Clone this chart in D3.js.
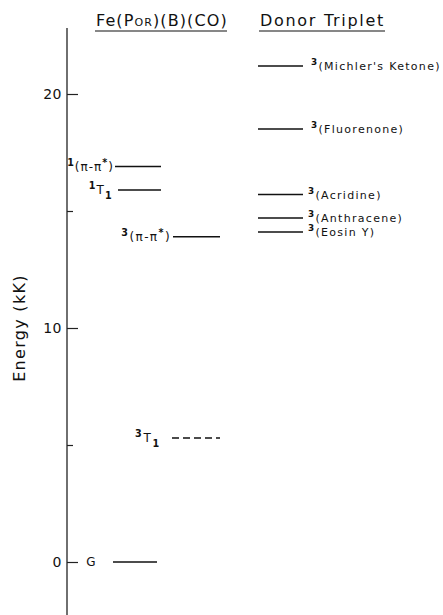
<!DOCTYPE html>
<html>
<head>
<meta charset="utf-8">
<script src="https://cdn.jsdelivr.net/npm/d3@7"></script>
<style>
  html, body { margin: 0; padding: 0; background: #fff; }
  svg { display: block; }
  text { font-family: "DejaVu Sans", sans-serif; fill: #111; }
</style>
</head>
<body>
<svg id="chart" width="443" height="615"></svg>
<script>
// ---- data ----
const leftLabels = ["^1(π-π^*)", "^1T_1", "^3(π-π^*)", "^3T_1", "G"];
const leftValues = [16.9, 15.9, 13.9, 5.3, 0];
const leftDashed = [false, false, false, true, false];

const donorLabels = ["^3(Michler's Ketone)", "^3(Fluorenone)", "^3(Acridine)", "^3(Anthracene)", "^3(Eosin Y)"];
const donorValues = [21.2, 18.5, 15.7, 14.7, 14.1];

const majorTicks = [0, 10, 20];
const minorTicks = [5, 15];
const axisTitle = "Energy (kK)";

// ---- layout (not data) ----
const leftLayout = [
  {x1: 115, x2: 161, labelEnd: 114, ls: 1.0},
  {x1: 118, x2: 161, labelEnd: 113, ls: 1.2},
  {x1: 173, x2: 220, labelEnd: 171, ls: 1.4},
  {x1: 172, x2: 220, labelEnd: 161, ls: 1.8},
  {x1: 113, x2: 157, labelEnd: 96, ls: 0.5}
];
const donorX = {x1: 258, x2: 303, label: 308};

const svg = d3.select("#chart");
const y = d3.scaleLinear().domain([0, 20]).range([562, 94]);
const axisX = 67;

// axis line
svg.append("line")
  .attr("x1", axisX).attr("x2", axisX)
  .attr("y1", 28).attr("y2", 615)
  .attr("stroke", "#222").attr("stroke-width", 1.3);

const gMajor = svg.append("g").attr("transform", `translate(${axisX},0)`)
  .call(d3.axisLeft(y).tickValues(majorTicks).tickSize(-11).tickPadding(5).tickFormat(d3.format("d")));
gMajor.select(".domain").remove();
gMajor.selectAll("line").attr("stroke", "#222").attr("stroke-width", 1.2);
gMajor.selectAll("text").attr("font-size", 14).attr("font-family", "DejaVu Sans, sans-serif").attr("fill", "#111").attr("letter-spacing", 0.5);

const gMinor = svg.append("g").attr("transform", `translate(${axisX},0)`)
  .call(d3.axisLeft(y).tickValues(minorTicks).tickSize(-6).tickFormat(""));
gMinor.select(".domain").remove();
gMinor.selectAll("line").attr("stroke", "#222").attr("stroke-width", 1.2);

// axis title
svg.append("text")
  .attr("transform", `translate(25,${y(10)}) rotate(-90)`)
  .attr("text-anchor", "middle")
  .attr("font-size", 16)
  .attr("letter-spacing", 1.3)
  .text(axisTitle);

// headers
const h1 = svg.append("text").attr("x", 96).attr("y", 26).attr("font-size", 16).attr("letter-spacing", 1.1);
h1.append("tspan").text("Fe(P");
h1.append("tspan").attr("font-size", 11).text("OR");
h1.append("tspan").text(")(B)(CO)");
svg.append("line").attr("x1", 95).attr("x2", 227).attr("y1", 31).attr("y2", 31).attr("stroke", "#111").attr("stroke-width", 1.2);

svg.append("text").attr("x", 260).attr("y", 26).attr("font-size", 16).attr("letter-spacing", 1.7).text("Donor Triplet");
svg.append("line").attr("x1", 259).attr("x2", 385).attr("y1", 31).attr("y2", 31).attr("stroke", "#111").attr("stroke-width", 1.2);

// rich label helper: ^c superscript char, _c subscript char
function richText(sel, str, baseSize) {
  let i = 0;
  while (i < str.length) {
    const c = str[i];
    if (c === "^" || c === "_") {
      const ch = str[i + 1];
      sel.append("tspan")
        .attr("font-size", baseSize * 0.8)
        .attr("baseline-shift", c === "^" ? "55%" : "-45%")
        .attr("font-weight", "bold")
        .text(ch);
      i += 2;
    } else {
      let j = i;
      while (j < str.length && str[j] !== "^" && str[j] !== "_") j++;
      sel.append("tspan").text(str.slice(i, j));
      i = j;
    }
  }
}

// left levels
leftValues.forEach((v, i) => {
  const L = leftLayout[i];
  svg.append("line")
    .attr("x1", L.x1).attr("x2", L.x2)
    .attr("y1", y(v)).attr("y2", y(v))
    .attr("stroke", "#111").attr("stroke-width", 1.5)
    .attr("stroke-dasharray", leftDashed[i] ? "7,4" : null);
  const t = svg.append("text")
    .attr("x", L.labelEnd).attr("y", y(v) + 4)
    .attr("text-anchor", "end")
    .attr("font-size", 12)
    .attr("letter-spacing", L.ls);
  richText(t, leftLabels[i], 12);
});

// donor levels
donorValues.forEach((v, i) => {
  svg.append("line")
    .attr("x1", donorX.x1).attr("x2", donorX.x2)
    .attr("y1", y(v)).attr("y2", y(v))
    .attr("stroke", "#111").attr("stroke-width", 1.5);
  const t = svg.append("text")
    .attr("x", donorX.label + (i < 2 ? 3 : 0)).attr("y", y(v) + 4)
    .attr("font-size", 11)
    .attr("letter-spacing", 1.3);
  richText(t, donorLabels[i], 11);
});
</script>
</body>
</html>
